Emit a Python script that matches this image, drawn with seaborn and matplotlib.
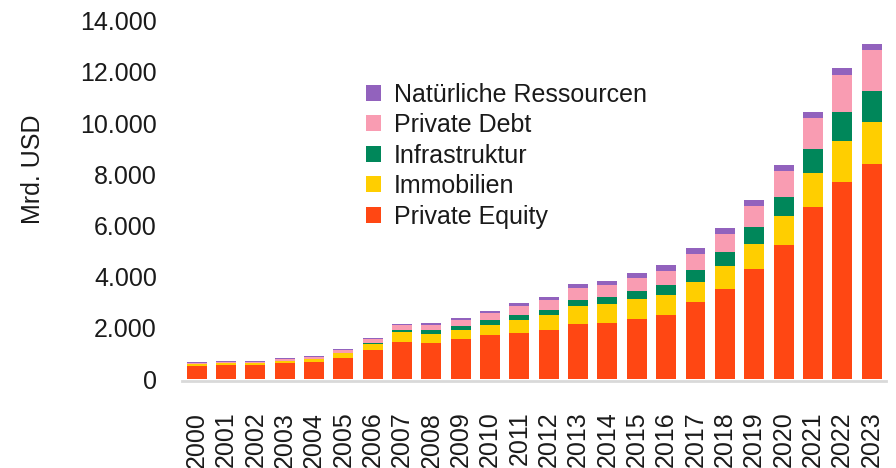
import matplotlib
matplotlib.use("Agg")
import matplotlib.pyplot as plt
import seaborn as sns
import pandas as pd
import numpy as np
from matplotlib.ticker import FuncFormatter, FixedLocator

years = [str(y) for y in range(2000, 2024)]
private_equity = [510, 550, 550, 625, 665, 820, 1130, 1445, 1405, 1560, 1720, 1800,
                  1910, 2150, 2190, 2340, 2500, 3010, 3520, 4300, 5230, 6720, 7700, 8400]
immobilien = [90, 90, 90, 75, 105, 195, 240, 395, 355, 350, 390, 500,
              590, 700, 740, 785, 780, 780, 890, 970, 1140, 1330, 1600, 1640]
infrastruktur = [0, 0, 0, 0, 0, 0, 30, 70, 150, 160, 190, 200,
                 200, 240, 270, 315, 390, 470, 550, 670, 740, 930, 1130, 1210]
private_debt = [40, 40, 40, 80, 90, 115, 160, 200, 200, 230, 280, 350,
                390, 460, 470, 505, 550, 620, 700, 820, 1015, 1220, 1445, 1600]
natuerliche_ressourcen = [25, 20, 20, 40, 40, 40, 40, 40, 80, 80, 80, 120,
                          110, 160, 160, 195, 230, 240, 240, 230, 235, 230, 275, 240]

series_names = ["Private Equity", "Immobilien", "Infrastruktur", "Private Debt", "Natürliche Ressourcen"]
series_values = [private_equity, immobilien, infrastruktur, private_debt, natuerliche_ressourcen]
colors = ["#FF4713", "#FFCE00", "#00875A", "#F99CB2", "#9262BD"]

yticks = [0, 2000, 4000, 6000, 8000, 10000, 12000, 14000]

sns.set_theme(style="white")
plt.rcParams["font.family"] = ["Liberation Sans", "DejaVu Sans"]

df = pd.DataFrame({"Jahr": years})
cum = np.zeros(len(years))
for name, vals in zip(series_names, series_values):
    cum = cum + np.array(vals, dtype=float)
    df[name] = cum

fig = plt.figure(figsize=(8.96, 4.68), dpi=100)
ax = fig.add_axes([0.2031, 0.190, 0.786, 0.766])

# draw from the top cumulative layer down so lower layers overlay
for name, col in reversed(list(zip(series_names, colors))):
    sns.barplot(data=df, x="Jahr", y=name, color=col, width=0.68,
                saturation=1, ax=ax, label=name, linewidth=0, order=years)

ax.set_ylim(0, 14000)
ax.set_xlim(-0.5, len(years) - 0.5)
ax.yaxis.set_major_locator(FixedLocator(yticks))
ax.yaxis.set_major_formatter(FuncFormatter(lambda v, p: f"{int(v):,}".replace(",", ".")))

for s in ["top", "right", "left"]:
    ax.spines[s].set_visible(False)
ax.spines["bottom"].set_color("#d9d9d9")
ax.spines["bottom"].set_linewidth(2)
ax.spines["bottom"].set_position(("outward", 1.5))

ax.tick_params(axis="y", length=0, pad=18, labelsize=18, labelcolor="#1a1a1a")
ax.tick_params(axis="x", which="major", length=0, pad=22, labelsize=18,
               labelcolor="#1a1a1a", labelrotation=90)
ax.set_xticks(np.arange(-0.5, len(years), 1.0), minor=True)
ax.tick_params(axis="x", which="minor", length=5, width=1.5, color="#d9d9d9")
for lab in ax.get_xticklabels():
    lab.set_va("top")
    lab.set_ha("center")

ax.set_xlabel("")
ax.set_ylabel("Mrd. USD", fontsize=18, color="#1a1a1a")
ax.yaxis.set_label_coords(-0.195, 0.584)
ax.grid(False)

handles, labels = ax.get_legend_handles_labels()
ax.legend(handles, labels, loc="upper left", bbox_to_anchor=(0.395, 0.85),
          bbox_transform=fig.transFigure, frameon=False, fontsize=18,
          handlelength=0.6, handleheight=0.6, handletextpad=0.5,
          labelspacing=0.26, borderpad=0, labelcolor="#1a1a1a")

fig.savefig("out.png", dpi=100)
